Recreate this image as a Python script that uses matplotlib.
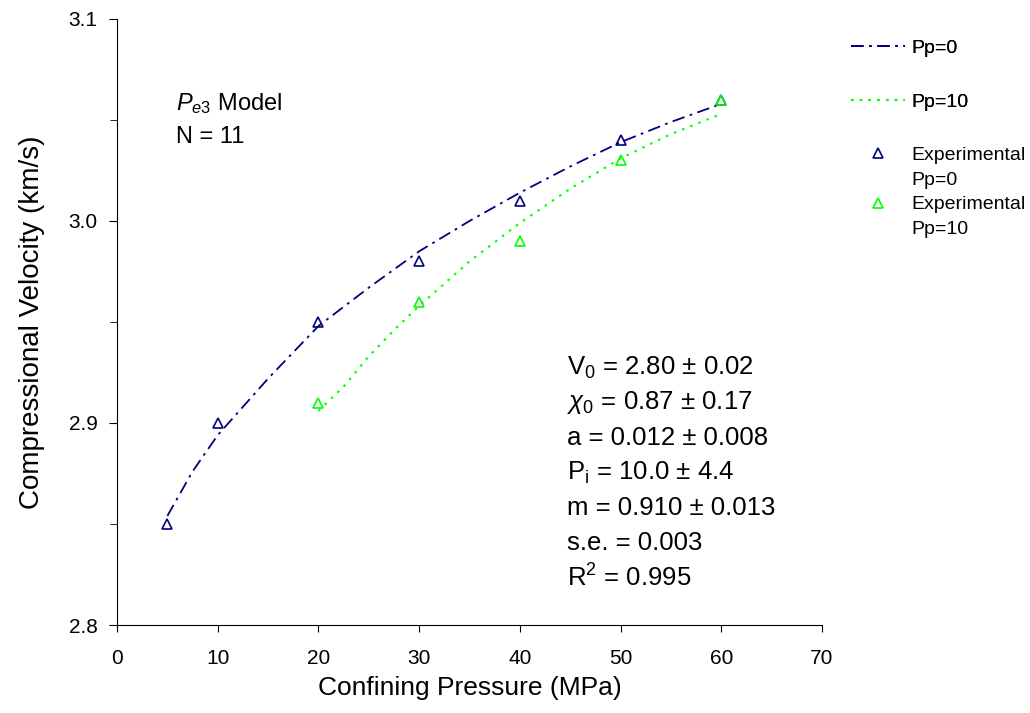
import numpy as np
import matplotlib.pyplot as plt
from matplotlib.lines import Line2D

plt.rcParams["font.family"] = ["Liberation Sans", "DejaVu Sans"]
plt.rcParams["mathtext.fontset"] = "custom"
plt.rcParams["mathtext.rm"] = "Liberation Sans"
plt.rcParams["mathtext.it"] = "Liberation Sans:italic"

# experimental points
exp_p0_x = [5, 10, 20, 30, 40, 50, 60]
exp_p0_v = [2.85, 2.90, 2.95, 2.98, 3.01, 3.04, 3.06]
exp_p10_x = [20, 30, 40, 50, 60]
exp_p10_v = [2.91, 2.96, 2.99, 3.03, 3.06]

# model curves
fit_p0_x = [5, 7.5, 10, 15, 20, 25, 30, 35, 40, 45, 50, 55, 60]
fit_p0_v = [2.854, 2.876, 2.894, 2.922, 2.948, 2.967, 2.985, 3.000, 3.014,
            3.027, 3.039, 3.049, 3.058]
fit_p10_x = [20, 22.5, 25, 27.5, 30, 35, 40, 45, 50, 55, 60]
fit_p10_v = [2.906, 2.918, 2.933, 2.946, 2.958, 2.980, 2.999, 3.016, 3.031,
             3.043, 3.053]

stats_lines = [
    r"V$_0$ = 2.80 ± 0.02",
    r"$\chi_0$ = 0.87 ± 0.17",
    "a = 0.012 ± 0.008",
    r"P$_\mathrm{i}$ = 10.0 ± 4.4",
    "m = 0.910 ± 0.013",
    "s.e. = 0.003",
    r"R$^2$ = 0.995",
]

navy = "#000080"
lime = "#00ff00"

fig = plt.figure(figsize=(10.30, 7.13), dpi=100)
ax = fig.add_axes([0.1136, 0.1234, 0.6845, 0.85])

ax.plot(fit_p0_x, fit_p0_v, color=navy, lw=1.3, dashes=(7, 3, 1.5, 3))
ax.plot(fit_p10_x, fit_p10_v, color=lime, lw=1.5, dashes=(1.2, 3))
ax.plot(exp_p0_x, exp_p0_v, ls="none", marker="^", ms=6.5, mfc="none",
        mec=navy, mew=1.2)
ax.plot(exp_p10_x, exp_p10_v, ls="none", marker="^", ms=6.5, mfc="none",
        mec=lime, mew=1.2)

ax.set_xlim(0, 70)
ax.set_ylim(2.8, 3.1)
ax.set_xticks(np.arange(0, 71, 10))
ax.set_yticks([2.8, 2.9, 3.0, 3.1])
ax.set_yticks(np.arange(2.85, 3.1, 0.1), minor=True)
ax.tick_params(axis="x", which="major", direction="out", length=5,
               labelsize=15, pad=12)
ax.tick_params(axis="y", which="major", direction="out", length=6,
               labelsize=15, pad=8)
ax.tick_params(axis="y", which="minor", direction="out", length=5)
ax.spines["top"].set_visible(False)
ax.spines["right"].set_visible(False)
ax.set_xlabel("Confining Pressure (MPa)", fontsize=19, labelpad=6)
ax.set_ylabel("Compressional Velocity (km/s)", fontsize=20, labelpad=17)

ax.text(0.083, 0.861, r"$P_{\mathit{e3}}$ Model", transform=ax.transAxes,
        fontsize=17, va="center")
ax.text(0.083, 0.805, "N = 11", transform=ax.transAxes,
        fontsize=17, va="center")

for i, line in enumerate(stats_lines):
    ax.text(0.638, 0.425 - i * 0.058, line, transform=ax.transAxes,
            fontsize=18.5, va="center")

line_handles = [
    Line2D([], [], color=navy, lw=1.3, dashes=(7, 3, 1.5, 3)),
    Line2D([], [], color=lime, lw=1.5, dashes=(1.2, 3)),
]
leg1 = fig.legend(line_handles, ["Pp=0", "Pp=10"], loc="upper left",
                  bbox_to_anchor=(0.809, 0.97), frameon=False, fontsize=14,
                  handlelength=2.8, handletextpad=0.3, labelspacing=1.9)

empty = Line2D([], [], ls="none")
marker_handles = [
    Line2D([], [], ls="none", marker="^", ms=6.5, mfc="none", mec=navy, mew=1.2),
    empty,
    Line2D([], [], ls="none", marker="^", ms=6.5, mfc="none", mec=lime, mew=1.2),
    empty,
]
leg2 = fig.legend(marker_handles, ["Experimental", "Pp=0", "Experimental", "Pp=10"],
                  loc="upper left", bbox_to_anchor=(0.809, 0.819), frameon=False,
                  fontsize=14, handlelength=2.8, handletextpad=0.3,
                  labelspacing=0.36)
fig.add_artist(leg1)

fig.savefig("out.png", dpi=100)
